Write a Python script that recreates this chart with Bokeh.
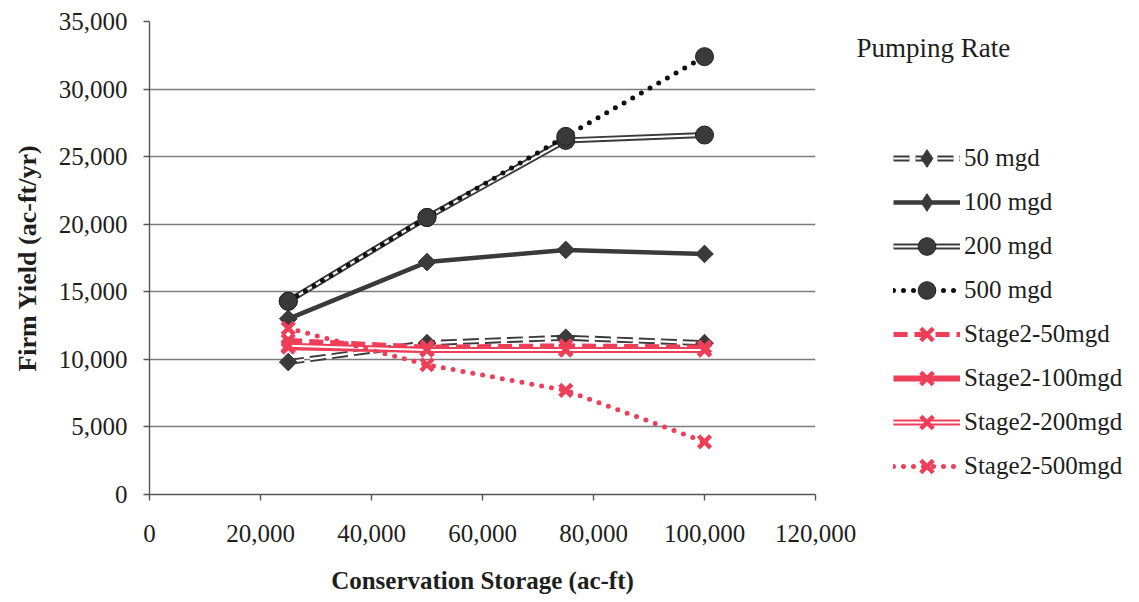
from bokeh.plotting import figure
from bokeh.layouts import row
from bokeh.models import (Legend, LegendItem, NumeralTickFormatter, FixedTicker,
                          Range1d, Label)
from bokeh.embed import file_html
from bokeh.resources import INLINE
import math

storage = [25000, 50000, 75000, 100000]
y_50 = [9800, 11200, 11600, 11200]
y_100 = [13000, 17200, 18100, 17800]
y_200 = [14300, 20500, 26200, 26600]
y_500 = [14300, 20500, 26500, 32400]
s2_50 = [11400, 10900, 11000, 10900]
s2_100 = [10900, 10700, 10700, 10700]
s2_200 = [11000, 10700, 10700, 10700]
s2_500 = [12300, 9600, 7700, 3900]
names = ["50 mgd", "100 mgd", "200 mgd", "500 mgd",
         "Stage2-50mgd", "Stage2-100mgd", "Stage2-200mgd", "Stage2-500mgd"]
legend_title = "Pumping Rate"
x_ticks = [0, 20000, 40000, 60000, 80000, 100000, 120000]
y_ticks = [0, 5000, 10000, 15000, 20000, 25000, 30000, 35000]
series = [y_50, y_100, y_200, y_500, s2_50, s2_100, s2_200, s2_500]

FONT = "Liberation Serif"
DARK = "#3a3a3a"
RED = "#ef3e58"
TXT = "#1e1e1e"

# (outer colour, outer width, dash, inner white width or None, marker)
styles = [
    (DARK, 6, "16 6", 2.2, "diamond"),
    (DARK, 4.5, "solid", None, "diamond"),
    (DARK, 6, "solid", 2.2, "circle"),
    ("#111111", 5, "0 10", None, "circle"),
    (RED, 5, "14 7", None, "x"),
    (RED, 6, "solid", None, "x"),
    (RED, 6, "solid", 2.0, "x"),
    (RED, 5, "0 10", None, "x"),
]

W_MAIN = 856
H = 602
FRAME_BOTTOM = 494

p = figure(width=W_MAIN, height=H, output_backend="svg", toolbar_location=None,
           x_range=Range1d(0, 120000), y_range=Range1d(0, 35000),
           min_border_left=149, min_border_right=W_MAIN - 815, min_border_top=21,
           min_border_bottom=H - FRAME_BOTTOM)
p.outline_line_color = None
p.background_fill_color = "white"
p.border_fill_color = "white"

p.xgrid.visible = False
p.ygrid.grid_line_color = "#7c7c7c"
p.ygrid.grid_line_width = 1.4
p.ygrid.ticker = FixedTicker(ticks=y_ticks)

for ax in (p.xaxis[0], p.yaxis[0]):
    ax.axis_line_color = "#555555"
    ax.axis_line_width = 1.4
    ax.major_tick_line_color = "#555555"
    ax.major_tick_line_width = 1.4
    ax.major_tick_out = 6
    ax.major_tick_in = 0
    ax.minor_tick_line_color = None
    ax.major_label_text_font = FONT
    ax.major_label_text_font_size = "25px"
    ax.major_label_text_color = TXT
    ax.axis_label_text_font = FONT
    ax.axis_label_text_font_size = "25px"
    ax.axis_label_text_font_style = "bold"
    ax.axis_label_text_color = TXT
    ax.formatter = NumeralTickFormatter(format="0,0")

p.xaxis.ticker = FixedTicker(ticks=x_ticks)
p.yaxis.ticker = FixedTicker(ticks=y_ticks)
p.xaxis.axis_label = "Conservation Storage (ac-ft)"
p.yaxis.axis_label = "Firm Yield (ac-ft/yr)"
p.yaxis.axis_label_text_font_size = "26px"
p.xaxis.major_label_standoff = 24
p.yaxis.major_label_standoff = 16
p.xaxis.axis_label_standoff = 22
p.yaxis.axis_label_standoff = 14

# legend panel figure (its frame is aligned with the main frame vertically)
q = figure(width=1139 - W_MAIN, height=H, output_backend="svg", toolbar_location=None,
           x_range=Range1d(-2, -1), y_range=Range1d(-2, -1),
           x_axis_location=None, y_axis_location=None,
           min_border_left=0, min_border_right=0, min_border_top=0, min_border_bottom=0)
q.outline_line_color = None
q.grid.visible = False
q.background_fill_color = "white"
q.border_fill_color = "white"


def draw(fig, ys, st, in_legend):
    color, w, dash, inner, marker = st
    rs = []
    kw = {}
    if dash.startswith("0 "):
        kw["line_cap"] = "round"
    rs.append(fig.line(storage, ys, line_color=color, line_width=w, line_dash=dash, **kw))
    if inner is not None:
        rs.append(fig.line(storage, ys, line_color="white", line_width=inner, line_dash=dash))
    if marker == "x":
        rs.append(fig.scatter(storage, ys, marker="x", size=17, line_color=color,
                              line_width=4.5))
    elif marker == "diamond":
        if in_legend:
            rs.append(fig.scatter(storage, ys, marker="diamond", size=20, fill_color=DARK,
                                  line_color=DARK))
        else:
            rs.append(fig.scatter(storage, ys, marker="square", size=12.5,
                                  angle=math.pi / 4, fill_color=DARK, line_color=DARK))
    else:
        rs.append(fig.scatter(storage, ys, marker="circle", size=18, fill_color=DARK,
                              line_color="#222222"))
    return rs


items = []
for name, ys, st in zip(names, series, styles):
    draw(p, ys, st, False)
    items.append(LegendItem(label=name, renderers=draw(q, ys, st, True)))

legend = Legend(items=items, location=(893 - W_MAIN, FRAME_BOTTOM - 488), padding=0, margin=0,
                glyph_width=67, glyph_height=44, label_height=44, spacing=0,
                label_standoff=4, label_text_font=FONT, label_text_font_size="25px",
                label_text_color=TXT, label_text_baseline="middle",
                border_line_color=None, background_fill_alpha=0)
q.add_layout(legend, "center")

title = Label(x=0, y=FRAME_BOTTOM - 47, x_units="screen", y_units="screen",
              text=legend_title, text_font=FONT, text_font_size="27px",
              text_color=TXT, text_baseline="middle")
q.add_layout(title)

layout = row(p, q, spacing=0)
open("out.html", "w").write(file_html(layout, INLINE))
